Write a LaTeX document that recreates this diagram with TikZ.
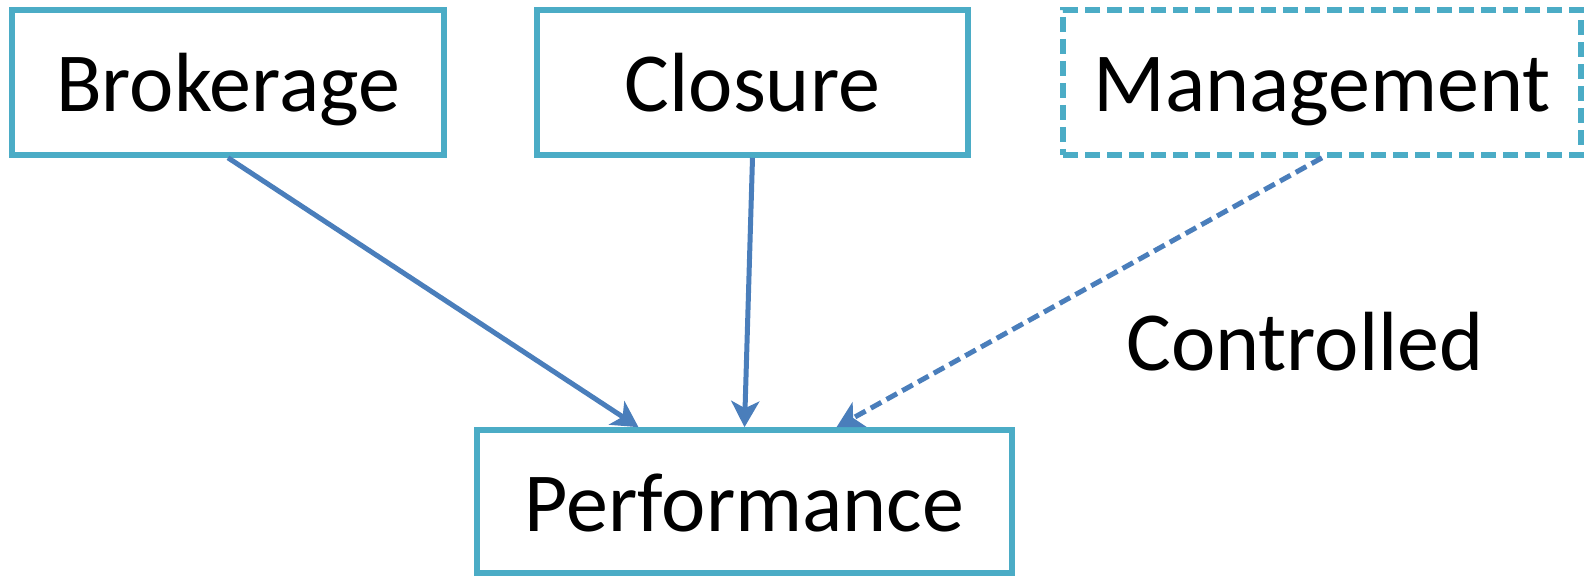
\documentclass[tikz,border=0pt]{standalone}
\usepackage{fontspec}
\setmainfont{Carlito}
\usepackage{tikz}
\usetikzlibrary{arrows.meta,positioning}
\definecolor{boxline}{HTML}{4BACC6}
\definecolor{arrline}{HTML}{4A7EBB}

\begin{document}
\begin{tikzpicture}[x=0.5pt,y=-0.5pt, semithick,
      var/.style={rectangle,draw=boxline,line width=2.8pt,text=black,
        font=\fontsize{42}{50}\selectfont,inner sep=0pt,minimum height=72.5pt,
        text height=38pt,text depth=8.5pt},
      ctrl/.style={var,dash pattern=on 7.5pt off 3.5pt},
      link/.style={draw=arrline,line width=2.5pt,
        -{Stealth[length=13pt,width=14pt,inset=3.5pt]}}]
      \useasboundingbox (0,0) rectangle (1589,577);
      \node[var,minimum width=216pt] (brok) at (228,82.5)  {Brokerage};
      \node[var,minimum width=215.5pt] (clos) at (752.5,82.5) {Closure};
      \node[ctrl,minimum width=259pt] (mgmt) at (1322,82.5) {Management};
      \node[var,minimum width=267.5pt,minimum height=71.5pt] (perf) at (744.5,501.5) {Performance};
      \node[font=\fontsize{42}{50}\selectfont] (ctrlabel) at (1305,342) {Controlled};
      \coordinate (pin1) at ([xshift=-53pt]perf.north);
      \coordinate (pin3) at ([xshift=46pt]perf.north);
      \draw[link] (brok.south) -- (pin1);
      \draw[link] (clos.south) -- (perf.north);
      \draw[link,dash pattern=on 6pt off 3pt] (mgmt.south) -- (pin3);
    \end{tikzpicture}
\end{document}
